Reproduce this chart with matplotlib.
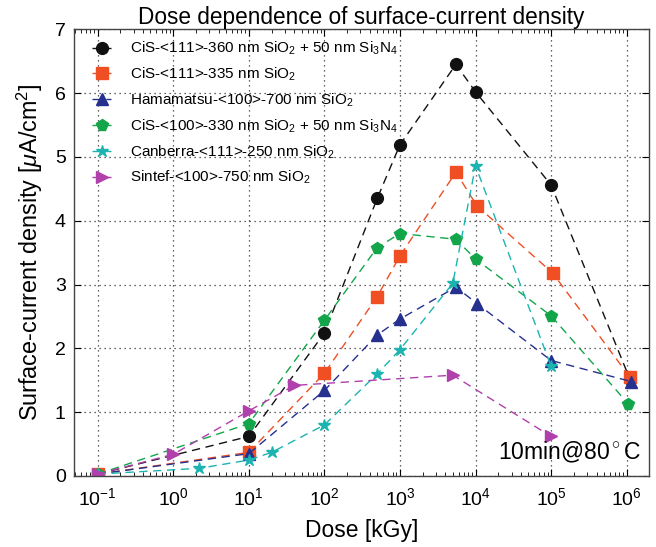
import matplotlib
matplotlib.use("Agg")
import matplotlib.pyplot as plt
import numpy as np

plt.rcParams['font.family'] = ['Liberation Sans', 'DejaVu Sans']
plt.rcParams['mathtext.fontset'] = 'custom'
plt.rcParams['mathtext.rm'] = 'Liberation Sans'
plt.rcParams['mathtext.it'] = 'Liberation Sans:italic'

labels = [
    r"CiS-<111>-360 nm SiO$_2$ + 50 nm Si$_3$N$_4$",
    r"CiS-<111>-335 nm SiO$_2$",
    r"Hamamatsu-<100>-700 nm SiO$_2$",
    r"CiS-<100>-330 nm SiO$_2$ + 50 nm Si$_3$N$_4$",
    r"Canberra-<111>-250 nm SiO$_2$",
    r"Sintef-<100>-750 nm SiO$_2$",
]

x_cis111n = [0.1, 10, 100, 500, 1000, 5500, 10000, 1e5, 1.1e6]
y_cis111n = [0.03, 0.62, 2.24, 4.35, 5.19, 6.45, 6.02, 4.56, 1.52]

x_cis111 = [0.1, 10, 100, 500, 1000, 5500, 10500, 1.05e5, 1.1e6]
y_cis111 = [0.03, 0.37, 1.61, 2.81, 3.45, 4.76, 4.23, 3.18, 1.55]

x_hama = [0.1, 10, 100, 500, 1000, 5500, 10500, 1e5, 1.15e6]
y_hama = [0.03, 0.35, 1.34, 2.21, 2.46, 2.96, 2.70, 1.81, 1.48]

x_cis100n = [0.1, 10, 100, 500, 1000, 5500, 10000, 1e5, 1.05e6]
y_cis100n = [0.03, 0.82, 2.44, 3.58, 3.80, 3.71, 3.40, 2.51, 1.13]

x_canb = [0.1, 2.2, 10, 20, 100, 500, 1000, 5000, 10000, 1e5]
y_canb = [0.03, 0.12, 0.25, 0.37, 0.80, 1.60, 1.98, 3.02, 4.86, 1.72]

x_sintef = [0.1, 1, 10, 40, 5000, 1e5]
y_sintef = [0.03, 0.34, 1.02, 1.42, 1.58, 0.62]

xs = [x_cis111n, x_cis111, x_hama, x_cis100n, x_canb, x_sintef]
ys = [y_cis111n, y_cis111, y_hama, y_cis100n, y_canb, y_sintef]
colors = ['#111111', '#f04e23', '#25308f', '#13a54a', '#1bb4b0', '#b040ac']
markers = ['o', 's', '^', 'p', '*', '>']
msizes = [8.5, 8, 8.5, 8.5, 9, 9]

fig = plt.figure(figsize=(6.56, 5.47), dpi=100)
ax = fig.add_axes([0.1128, 0.1298, 0.9893 - 0.1128, 0.9464 - 0.1298])

for x, y, c, m, ms, lab in zip(xs, ys, colors, markers, msizes, labels):
    ax.plot(x, y, color=c, marker=m, markersize=ms, linestyle=(0, (6, 4)),
            linewidth=1.0, label=lab, markeredgecolor=c, markerfacecolor=c)

ax.set_xscale('log')
ax.set_xlim(10**-1.313, 10**6.295)
ax.set_ylim(0, 7)
ax.set_yticks(range(0, 8))
ax.set_xticks([10.0**k for k in range(-1, 7)])
ax.grid(True, which='major', color='#333333', linestyle=(0, (1, 3)), linewidth=0.9)
ax.tick_params(axis='both', which='both', direction='in', top=True, right=True)
ax.tick_params(axis='both', which='major', length=5, labelsize=14)
ax.tick_params(axis='x', which='major', pad=8)
ax.tick_params(axis='y', which='major', pad=6)
ax.tick_params(axis='x', which='minor', length=3)
for s in ax.spines.values():
    s.set_color('#444444')
    s.set_linewidth(1.0)

ax.set_title("Dose dependence of surface-current density", fontsize=16.3, pad=4)
ax.set_xlabel("Dose [kGy]", fontsize=16.5, labelpad=7)
ax.set_ylabel(r"Surface-current density [$\mu$A/cm$^2$]", fontsize=16.8, labelpad=7)

ax.text(0.985, 0.025, r"10min@80$^\circ$C", transform=ax.transAxes,
        ha='right', va='bottom', fontsize=16.5)

leg = ax.legend(loc='upper left', frameon=False, fontsize=11, handlelength=1.3,
                handletextpad=1.2, borderaxespad=0.3, labelspacing=0.55,
                bbox_to_anchor=(0.012, 1.0))

fig.savefig("out.png", dpi=100)
